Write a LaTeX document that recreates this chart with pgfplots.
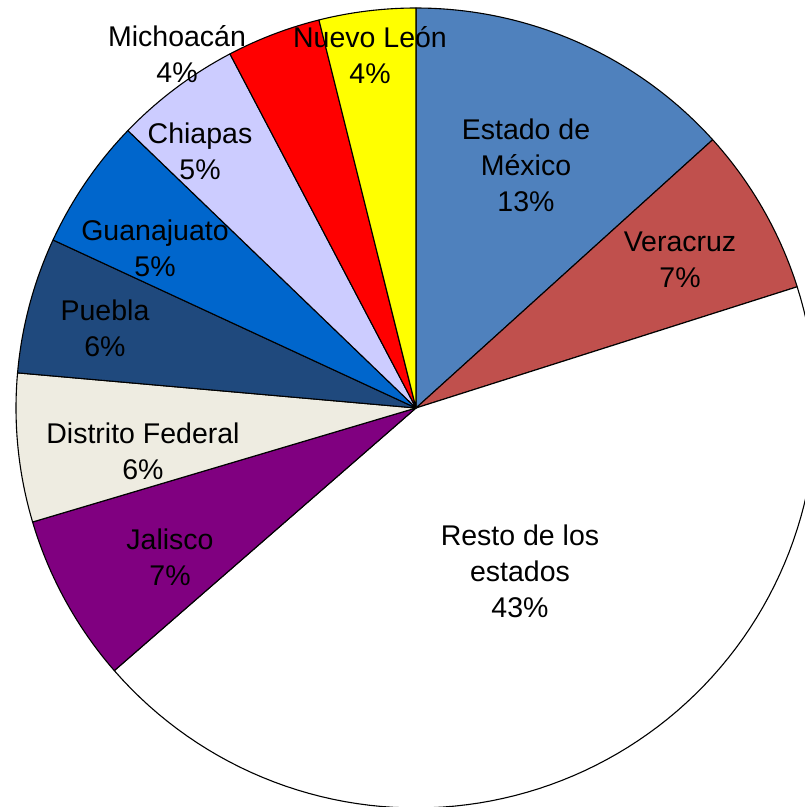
\documentclass[border=0pt]{standalone}
\usepackage{pgfplots}
\usepackage{pgfplotstable}
\pgfplotsset{compat=1.18}
\usepackage{fontspec}
\setmainfont{Liberation Sans}
\definecolor{cEM}{HTML}{4F81BD}
\definecolor{cVer}{HTML}{C0504D}
\definecolor{cResto}{HTML}{FFFFFF}
\definecolor{cJal}{HTML}{800080}
\definecolor{cDF}{HTML}{EEECE1}
\definecolor{cPue}{HTML}{1F497D}
\definecolor{cGto}{HTML}{0066CC}
\definecolor{cChi}{HTML}{CCCCFF}
\definecolor{cMich}{HTML}{FF0000}
\definecolor{cNL}{HTML}{FFFF00}
\pgfplotstableread{
name value color
EstadoMexico 13.3 cEM
Veracruz 6.8 cVer
Resto 43.5 cResto
Jalisco 6.8 cJal
DistritoFederal 6.0 cDF
Puebla 5.5 cPue
Guanajuato 5.3 cGto
Chiapas 5.1 cChi
Michoacan 3.8 cMich
NuevoLeon 3.9 cNL
}\piedata
\begin{document}
\begin{tikzpicture}
\begin{axis}[
  at={(0,0)}, anchor=south west,
  scale only axis, width=805pt, height=807pt,
  xmin=0, xmax=805, ymin=0, ymax=807,
  hide axis, clip=true,
]
\pgfplotstablegetrowsof{\piedata}
\pgfmathtruncatemacro\nrows{\pgfplotsretval-1}
\gdef\cum{0}
\pgfplotsforeachungrouped \i in {0,...,\nrows}{
  \pgfplotstablegetelem{\i}{value}\of\piedata \let\v\pgfplotsretval
  \pgfplotstablegetelem{\i}{color}\of\piedata \let\c\pgfplotsretval
  \pgfmathsetmacro\a{\cum}
  \pgfmathsetmacro\b{\cum+\v}
  \edef\temp{\noexpand\addplot[draw=black, line width=1.1pt, line join=round, fill=\c, domain=\a:\b, samples=90, variable=\noexpand\t] ({416+400*sin(3.6*\noexpand\t)},{399+400*cos(3.6*\noexpand\t)}) -- (axis cs:416,399) -- cycle;}
  \temp
  \global\let\cum\b
}
\begin{scope}[every node/.style={align=center, font=\fontsize{28.5}{36}\selectfont, text=black, inner sep=0pt}]
\node at (axis cs:526,642) {Estado de\\México\\13\%};
\node at (axis cs:680,547) {Veracruz\\7\%};
\node at (axis cs:520,236) {Resto de los\\estados\\43\%};
\node at (axis cs:170,250) {Jalisco\\7\%};
\node at (axis cs:143,356) {Distrito Federal\\6\%};
\node at (axis cs:105,479) {Puebla\\6\%};
\node at (axis cs:155,559) {Guanajuato\\5\%};
\node at (axis cs:200,656) {Chiapas\\5\%};
\node at (axis cs:177,753) {Michoacán\\4\%};
\node at (axis cs:370,752) {Nuevo León\\4\%};
\end{scope}
\end{axis}
\pgfresetboundingbox
\path (0,0) rectangle (805pt,807pt);
\end{tikzpicture}
\end{document}
